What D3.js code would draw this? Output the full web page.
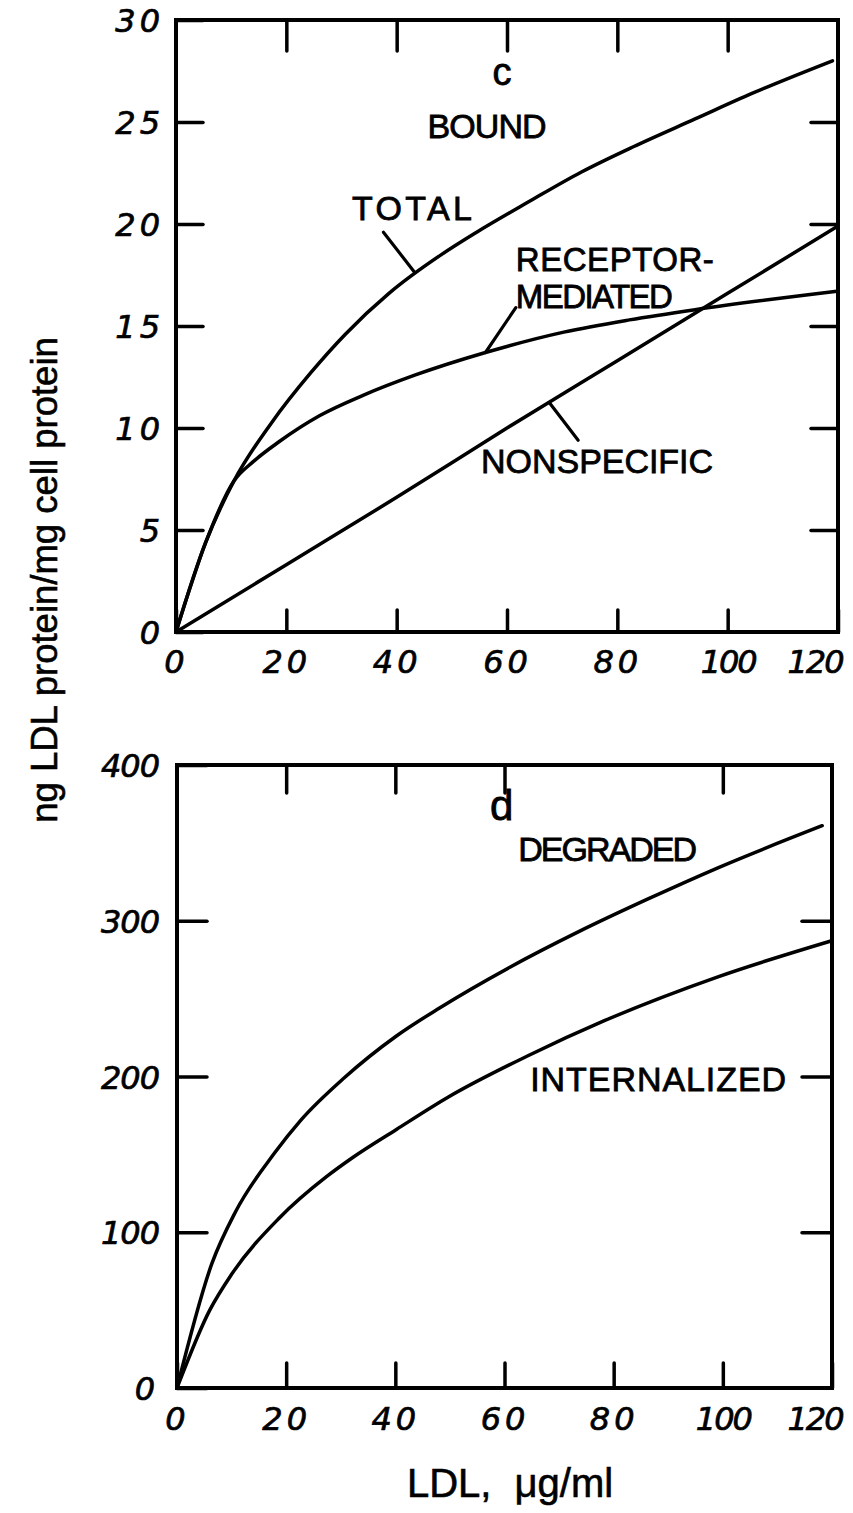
<!DOCTYPE html>
<html><head><meta charset="utf-8">
<script src="https://cdn.jsdelivr.net/npm/d3@7"></script>
<style>
html,body{margin:0;padding:0;background:#fff;}
svg{display:block;}
</style></head>
<body><svg id="chart" width="853" height="1513"></svg>
<script>
// ---------------- DATA ----------------
const xTickValues = [0, 20, 40, 60, 80, 100, 120];
const xTickLabels = ["0", "20", "40", "60", "80", "100", "120"];
const boundTickValues = [0, 5, 10, 15, 20, 25, 30];
const boundTickLabels = ["0", "5", "10", "15", "20", "25", "30"];
const degTickValues = [0, 100, 200, 300, 400];
const degTickLabels = ["0", "100", "200", "300", "400"];

// panel c: bound
const totalX = [0, 5.4, 10.5, 17.3, 24.4, 30.7, 38.6, 48.1, 54.5, 64.0, 73.5, 83.0, 94.1, 104.4, 119.0];
const totalY = [0, 4.4, 7.4, 10.25, 12.7, 14.6, 16.6, 18.5, 19.6, 21.1, 22.55, 23.8, 25.15, 26.4, 28.0];
const receptorX = [0, 5.4, 10.5, 14.0, 18.8, 26.0, 33.9, 43.4, 56.1, 70.3, 82.2, 94.1, 119.8];
const receptorY = [0, 4.4, 7.4, 8.35, 9.35, 10.6, 11.6, 12.6, 13.7, 14.7, 15.3, 15.8, 16.7];
const nonspecX = [0, 20, 40, 60, 80, 100, 120];
const nonspecY = [0, 3.3, 6.6, 10.0, 13.3, 16.6, 19.9];

// panel d: degraded / internalized
const degradedX = [0, 6.4, 10.7, 17.9, 22.7, 30.6, 40.2, 48.1, 60.9, 73.6, 86.3, 99.1, 118.2];
const degradedY = [0, 80, 113, 151, 172, 199, 226, 244, 270, 293, 314, 334, 361];
const internalizedX = [0, 6.0, 10.0, 18.7, 27.5, 32.2, 40.2, 49.8, 64.1, 78.4, 99.1, 119.8];
const internalizedY = [0, 50, 73, 109, 136, 148, 166, 187, 213, 236, 264, 287];

const yTitle = "ng LDL protein/mg cell protein";
const xTitle = "LDL, \u03bcg/ml";

// ---------------- DRAWING ----------------
const svg = d3.select("#chart");
const FONT_LABEL = "'Liberation Sans', Arial, Helvetica, sans-serif";
const FONT_TICK = "'DejaVu Sans', sans-serif";
const AX_W = 4, TICK_W = 3.5, LINE_W = 3.5;

const zip = (xs, ys) => xs.map((v, i) => [v, ys[i]]);

function styleAxis(ga) {
  ga.select(".domain").remove();
  ga.attr("font-family", null).attr("font-size", null);
  ga.selectAll("line").attr("stroke", "#000").attr("stroke-width", TICK_W).attr("stroke-linecap", "round");
  ga.selectAll("text")
    .attr("fill", "#000")
    .attr("stroke", "#000").attr("stroke-width", 0.7)
    .attr("font-family", FONT_TICK)
    .attr("font-style", "oblique")
    .attr("font-size", 32);
}

function drawPanel(cfg) {
  const { x, y, yMax, leftVals, leftLabels, topVals, rightVals, botLen, topLen, sideLen, xPad, yPad, lastDx } = cfg;
  const g = svg.append("g");

  const gb = g.append("g").attr("transform", `translate(0,${y(0)})`)
    .call(d3.axisBottom(x).tickValues(xTickValues).tickFormat((d, i) => xTickLabels[i])
      .tickSize(-botLen).tickSizeOuter(0).tickPadding(xPad));
  styleAxis(gb);
  gb.selectAll("text")
    .attr("letter-spacing", d => String(d).length >= 3 ? -2 : 4)
    .attr("text-anchor", d => d === 120 ? "end" : "middle")
    .attr("dx", d => d === 120 ? lastDx : 0);

  const gl = g.append("g").attr("transform", `translate(${x(0)},0)`)
    .call(d3.axisLeft(y).tickValues(leftVals).tickFormat((d, i) => leftLabels[i])
      .tickSize(-sideLen).tickSizeOuter(0).tickPadding(yPad));
  styleAxis(gl);
  gl.selectAll("text")
    .attr("letter-spacing", d => String(d).length >= 3 ? -1 : 4)
    .attr("dy", "0.36em");

  const gt = g.append("g").attr("transform", `translate(0,${y(yMax)})`)
    .call(d3.axisTop(x).tickValues(topVals).tickFormat("").tickSize(-topLen).tickSizeOuter(0));
  styleAxis(gt);

  const gr = g.append("g").attr("transform", `translate(${x(120)},0)`)
    .call(d3.axisRight(y).tickValues(rightVals).tickFormat("").tickSize(-sideLen).tickSizeOuter(0));
  styleAxis(gr);

  g.append("rect")
    .attr("x", x(0)).attr("y", y(yMax))
    .attr("width", x(120) - x(0)).attr("height", y(0) - y(yMax))
    .attr("fill", "none").attr("stroke", "#000").attr("stroke-width", AX_W);

  const line = d3.line().x(d => x(d[0])).y(d => y(d[1])).curve(d3.curveMonotoneX);
  cfg.series.forEach(s => {
    g.append("path").datum(s).attr("d", line)
      .attr("fill", "none").attr("stroke", "#000")
      .attr("stroke-width", LINE_W).attr("stroke-linejoin", "round").attr("stroke-linecap", "round");
  });
  return g;
}

function label(g, px, py, text, opts = {}) {
  const t = g.append("text")
    .attr("x", px).attr("y", py)
    .attr("font-family", FONT_LABEL)
    .attr("font-size", opts.size || 34)
    .attr("fill", "#000")
    .attr("stroke", "#000").attr("stroke-width", 0.8)
    .attr("text-anchor", opts.anchor || "start")
    .text(text);
  if (opts.len) t.attr("textLength", opts.len).attr("lengthAdjust", "spacing");
  return t;
}
function leader(g, x, y, a, b) {
  g.append("line")
    .attr("x1", x(a[0])).attr("y1", y(a[1]))
    .attr("x2", x(b[0])).attr("y2", y(b[1]))
    .attr("stroke", "#000").attr("stroke-width", 3.2).attr("stroke-linecap", "round");
}

// ---- Panel c (bound) ----
const xC = d3.scaleLinear().domain([0, 120]).range([176, 838]);
const yC = d3.scaleLinear().domain([0, 30]).range([632, 20]);
const gC = drawPanel({
  x: xC, y: yC, yMax: 30,
  leftVals: boundTickValues, leftLabels: boundTickLabels,
  topVals: [20, 40, 60, 80, 100], rightVals: [5, 10, 15, 20, 25],
  botLen: 22, topLen: 31, sideLen: 27, xPad: 18, yPad: 12, lastDx: 4,
  series: [zip(totalX, totalY), zip(receptorX, receptorY), zip(nonspecX, nonspecY)]
});
label(gC, xC(59.1), yC(26.8), "c", { size: 38, anchor: "middle" });
label(gC, xC(45.6), yC(24.2), "BOUND", { len: 119 });
label(gC, xC(31.9), yC(20.2), "TOTAL", { len: 120 });
leader(gC, xC, yC, [37.6, 19.6], [43.2, 17.65]);
label(gC, xC(61.6), yC(17.7), "RECEPTOR-", { len: 198, size: 33 });
label(gC, xC(61.6), yC(15.9), "MEDIATED", { len: 157, size: 33 });
leader(gC, xC, yC, [61.6, 15.9], [56.1, 13.7]);
label(gC, xC(55.3), yC(7.8), "NONSPECIFIC", { len: 232 });
leader(gC, xC, yC, [67.8, 11.2], [72.9, 9.4]);

// ---- Panel d (degraded / internalized) ----
const xD = d3.scaleLinear().domain([0, 120]).range([177, 832]);
const yD = d3.scaleLinear().domain([0, 400]).range([1388, 765]);
const gD = drawPanel({
  x: xD, y: yD, yMax: 400,
  leftVals: degTickValues, leftLabels: degTickLabels,
  topVals: [20, 40, 60, 100], rightVals: [100, 200, 300],
  botLen: 25, topLen: 28, sideLen: 30, xPad: 19, yPad: 18, lastDx: 10,
  series: [zip(degradedX, degradedY), zip(internalizedX, internalizedY)]
});
label(gD, xD(59.5), yD(364.5), "d", { size: 42, anchor: "middle" });
label(gD, xD(62.5), yD(338.5), "DEGRADED", { len: 179 });
label(gD, xD(64.7), yD(190.5), "INTERNALIZED", { len: 256 });

// ---- Axis titles ----
svg.append("text")
  .attr("transform", "translate(57,580) rotate(-90)")
  .attr("font-family", FONT_LABEL).attr("font-size", 36.5)
  .attr("text-anchor", "middle").attr("fill", "#000")
  .attr("stroke", "#000").attr("stroke-width", 0.6)
  .text(yTitle);
svg.append("text")
  .attr("x", 510).attr("y", 1497)
  .attr("font-family", FONT_LABEL).attr("font-size", 40)
  .attr("text-anchor", "middle").attr("fill", "#000")
  .attr("stroke", "#000").attr("stroke-width", 0.6)
  .attr("word-spacing", 12)
  .text(xTitle);
</script>
</body></html>
